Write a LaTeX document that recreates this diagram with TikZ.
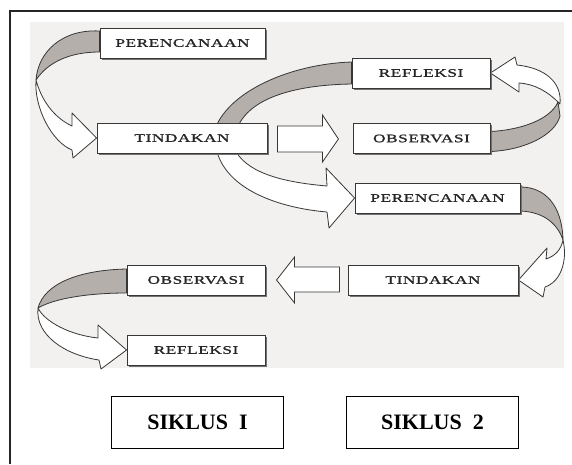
\documentclass[tikz,border=0pt]{standalone}
\usepackage{fontspec}
\setmainfont{Liberation Serif}
\newfontfamily\boxfont[FakeStretch=1.5,FakeBold=1.2,LetterSpace=5]{Liberation Serif}
\usetikzlibrary{shadows, backgrounds, calc}

\definecolor{panelgray}{RGB}{242,241,239}
\definecolor{bandgray}{RGB}{180,175,170}
\definecolor{edgegray}{RGB}{55,55,55}

\begin{document}
\begin{tikzpicture}[
  x=1pt, y=-1pt,
  stage/.style      ={draw=edgegray, line width=0.9pt, fill=white, minimum height=30pt, inner sep=0pt,
                      text=black!85, font=\boxfont\fontsize{11.5}{13}\selectfont,
                      drop shadow={shadow xshift=1.6pt, shadow yshift=-1.6pt, fill=black!55, opacity=1}},
  siklus/.style     ={draw=black, line width=1pt, fill=white, minimum width=172pt, minimum height=52pt,
                      font=\bfseries\fontsize{22}{24}\selectfont},
  ribbonback/.style ={draw=edgegray, line width=0.8pt, line join=round, fill=bandgray},
  ribbonfront/.style={draw=edgegray, line width=0.8pt, line join=round, fill=white},
  blockarrow/.style ={draw=edgegray, line width=0.8pt, line join=miter, fill=white},
]
  \useasboundingbox (0,0) rectangle (572,464);

  \node[stage, minimum width=165pt] (per1) at (182.5,43)  {PERENCANAAN};
  \node[stage, minimum width=170pt] (tin1) at (182,138)   {TINDAKAN};
  \node[stage, minimum width=138pt] (ref1) at (421,73)    {REFLEKSI};
  \node[stage, minimum width=137pt] (obs1) at (421.5,138.5) {OBSERVASI};
  \node[stage, minimum width=165pt] (per2) at (437.5,198) {PERENCANAAN};
  \node[stage, minimum width=170pt] (tin2) at (433,280)   {TINDAKAN};
  \node[stage, minimum width=138pt] (obs2) at (196,280)   {OBSERVASI};
  \node[stage, minimum width=138pt] (ref2) at (196,350)   {REFLEKSI};

  \node[siklus] (sik1) at (197.5,422) {SIKLUS\enspace I};
  \node[siklus] (sik2) at (432.5,422) {SIKLUS\enspace 2};

  \path[blockarrow] ($(tin1.east)+(10,-12)$) -- ++(45,0) -- ++(0,-11) -- ++(16,24)
    -- ++(-16,23) -- ++(0,-10) -- ++(-45,0) -- cycle;
  \path[blockarrow] ($(tin2.west)+(-8,-13)$) -- ++(-45,0) -- ++(0,-10) -- ++(-18,23)
    -- ++(18,23) -- ++(0,-11) -- ++(45,0) -- cycle;

  \begin{pgfonlayer}{background}
    \fill[panelgray] (30,22) rectangle (564,368);

    \path[ribbonback] ($(per1.west)+(0,-12)$) .. controls (62,29) and (38,52) .. (36,80)
      .. controls (48,62) and (70,52) .. ($(per1.west)+(0,9)$) -- cycle;
    \path[ribbonfront] (36,80) .. controls (34,108) and (52,142) .. (72,150) -- (73,158) -- (tin1.west)
      -- (72,113) -- (72,126) .. controls (55,118) and (42,102) .. (36,80) -- cycle;

    \path[ribbonback] ($(ref1.west)+(0,-11)$) .. controls (290,64) and (226,92) .. (214,132)
      -- (236,132) .. controls (245,100) and (290,85) .. ($(ref1.west)+(0,11)$) -- cycle;
    \path[ribbonfront] (216,148) .. controls (225,190) and (280,208) .. (327,212) -- (329,228) -- (per2.west)
      -- (326,168) -- (327,186) .. controls (280,182) and (245,172) .. (234,148) -- cycle;

    \path[ribbonback] ($(obs1.east)+(0,-7)$) .. controls (520,130) and (550,120) .. (558,102)
      -- (560,116) .. controls (555,135) and (525,150) .. ($(obs1.east)+(0,13)$) -- cycle;
    \path[ribbonfront] (558,102) .. controls (548,92) and (535,84) .. (519,83) -- (519,92) -- (ref1.east)
      -- (515,57) -- (517,65) .. controls (545,68) and (562,82) .. (560,104) -- cycle;

    \path[ribbonback] ($(per2.east)+(0,-11)$) .. controls (545,187) and (562,205) .. (563,240)
      .. controls (558,225) and (545,212) .. ($(per2.east)+(0,13)$) -- cycle;
    \path[ribbonfront] (563,240) .. controls (568,262) and (560,282) .. (545,287) -- (543,297) -- (tin2.east)
      -- (547,248) -- (546,259) .. controls (555,256) and (561,250) .. (563,240) -- cycle;

    \path[ribbonback] ($(obs2.west)+(0,-11)$) .. controls (80,270) and (45,283) .. (38,308)
      .. controls (55,298) and (90,293) .. ($(obs2.west)+(0,13)$) -- cycle;
    \path[ribbonfront] (38,308) .. controls (35,335) and (65,355) .. (99,360) -- (101,369) -- (ref2.west)
      -- (98,325) -- (98,338) .. controls (70,335) and (45,322) .. (38,308) -- cycle;
  \end{pgfonlayer}

  \draw[line width=1.6pt, black!85] (10,464) -- (10,11) -- (572,11);
\end{tikzpicture}
\end{document}
